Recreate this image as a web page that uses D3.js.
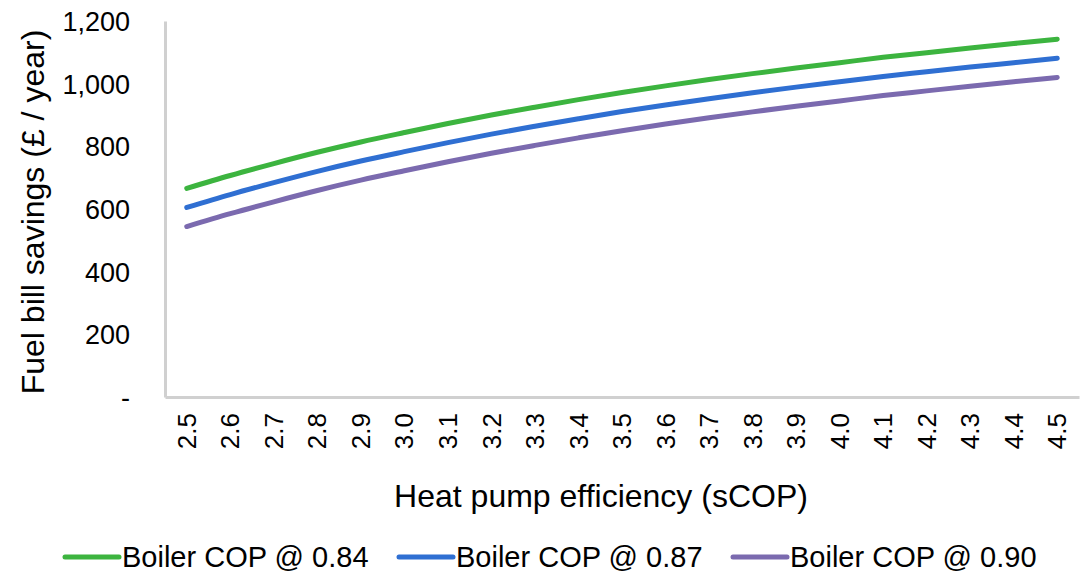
<!DOCTYPE html>
<html>
  <head>
    <meta charset="utf-8">
    <title>Fuel bill savings</title>
    <style>
      html, body {
        margin: 0;
        padding: 0;
        background: #fff;
      }
      text {
        font-family: "Liberation Sans", Arial, sans-serif;
        fill: #000;
      }
    </style>
  </head>
  <body>
    <script src="https://cdn.jsdelivr.net/npm/d3@7"></script>
    <div id="chart"></div>
    <script>

      // Heat pump sCOP categories
      var scop = ['2.5','2.6','2.7','2.8','2.9','3.0','3.1','3.2','3.3','3.4','3.5',
                  '3.6','3.7','3.8','3.9','4.0','4.1','4.2','4.3','4.4','4.5']

      // Savings (£ / year)
      var cop084 = [666, 707, 745, 781, 814, 844, 873, 900, 925, 949, 972,
                    993, 1013, 1032, 1050, 1067, 1084, 1099, 1114, 1128, 1142]
      var cop087 = [605, 646, 684, 720, 753, 783, 812, 839, 864, 888, 911,
                    932, 952, 971, 989, 1006, 1023, 1038, 1053, 1067, 1081]
      var cop090 = [544, 585, 623, 659, 692, 722, 751, 778, 803, 827, 850,
                    871, 891, 910, 928, 945, 962, 977, 992, 1006, 1020]

      var seriesNames = ['Boiler COP @ 0.84', 'Boiler COP @ 0.87', 'Boiler COP @ 0.90']
      var yTicks = [0, 200, 400, 600, 800, 1000, 1200]

      var colors = ['#3cb43f', '#2f6fd2', '#7b6aaf']
      var series = [cop084, cop087, cop090]

      var W = 1089, H = 573
      var plotLeft = 165, plotRight = 1079, plotTop = 21, plotBottom = 397

      var svg = d3.select('#chart')
        .append('svg')
        .attr('width', W)
        .attr('height', H)

      var x = d3.scaleBand()
        .domain(scop)
        .range([plotLeft, plotRight])

      var y = d3.scaleLinear()
        .domain([0, 1200])
        .range([plotBottom, plotTop])

      // y axis
      var yAxis = svg.append('g')
        .attr('transform', 'translate(' + plotLeft + ',0)')
        .call(d3.axisLeft(y)
          .tickValues(yTicks)
          .tickSize(0)
          .tickPadding(35)
          .tickFormat(function(d) { return d === 0 ? '-' : d3.format(',')(d) }))

      yAxis.select('.domain')
        .attr('stroke', '#d0d0d0')
        .attr('stroke-width', 3)
      yAxis.selectAll('text')
        .style('font-size', '27px')
        .attr('dy', '0.35em')

      // x axis
      var xAxis = svg.append('g')
        .attr('transform', 'translate(0,' + plotBottom + ')')
        .call(d3.axisBottom(x).tickSize(0).tickPadding(0))

      xAxis.select('.domain')
        .attr('stroke', '#d0d0d0')
        .attr('stroke-width', 3)
      xAxis.selectAll('text')
        .style('font-size', '26px')
        .attr('text-anchor', 'end')
        .attr('transform', 'rotate(-90)')
        .attr('x', -16)
        .attr('y', 0)
        .attr('dy', '0.35em')

      // lines
      var line = d3.line()
        .x(function(d, i) { return x(scop[i]) + x.bandwidth() / 2 })
        .y(function(d) { return y(d) })
        .curve(d3.curveMonotoneX)

      svg.selectAll('.series')
        .data(series)
        .enter()
        .append('path')
        .attr('class', 'series')
        .attr('d', line)
        .attr('fill', 'none')
        .attr('stroke', function(d, i) { return colors[i] })
        .attr('stroke-width', 5)
        .attr('stroke-linecap', 'round')

      // axis titles
      svg.append('text')
        .attr('transform', 'translate(44,' + ((plotTop + plotBottom) / 2 + 3) + ') rotate(-90)')
        .attr('text-anchor', 'middle')
        .style('font-size', '32px')
        .text('Fuel bill savings (£ / year)')

      svg.append('text')
        .attr('x', 601)
        .attr('y', 507)
        .attr('text-anchor', 'middle')
        .style('font-size', '32px')
        .text('Heat pump efficiency (sCOP)')

      // legend
      var legendX = [63, 397, 731]
      var legend = svg.selectAll('.legend')
        .data(seriesNames)
        .enter()
        .append('g')
        .attr('class', 'legend')
        .attr('transform', function(d, i) { return 'translate(' + legendX[i] + ',557)' })

      legend.append('line')
        .attr('x1', 2).attr('x2', 56)
        .attr('y1', 0).attr('y2', 0)
        .attr('stroke', function(d, i) { return colors[i] })
        .attr('stroke-width', 5)
        .attr('stroke-linecap', 'round')

      legend.append('text')
        .attr('x', 59)
        .attr('y', 0)
        .attr('dy', '0.35em')
        .style('font-size', '29px')
        .text(function(d) { return d })

    </script>
  </body>
</html>
